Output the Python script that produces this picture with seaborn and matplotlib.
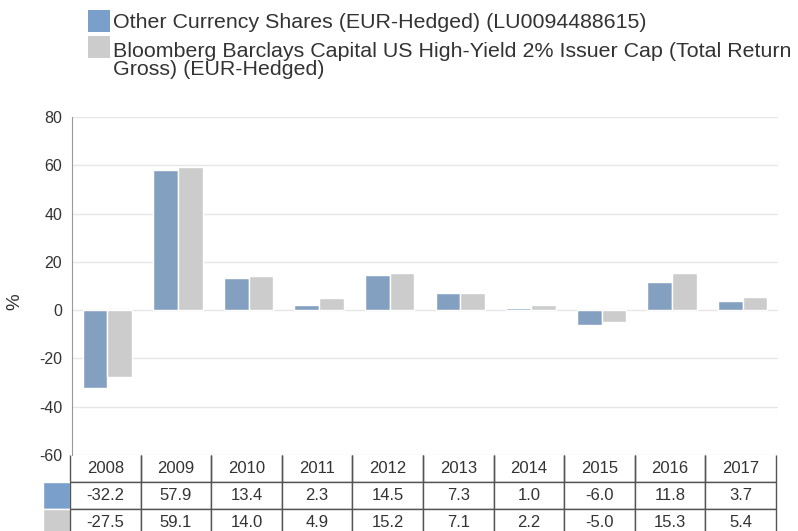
import matplotlib
matplotlib.use("Agg")
import matplotlib.pyplot as plt
from matplotlib.patches import Rectangle
import pandas as pd
import seaborn as sns

# data
years = ["2008", "2009", "2010", "2011", "2012", "2013", "2014", "2015", "2016", "2017"]
fund = [-32.2, 57.9, 13.4, 2.3, 14.5, 7.3, 1.0, -6.0, 11.8, 3.7]
bench = [-27.5, 59.1, 14.0, 4.9, 15.2, 7.1, 2.2, -5.0, 15.3, 5.4]
series_names = ["Other Currency Shares (EUR-Hedged) (LU0094488615)",
                "Bloomberg Barclays Capital US High-Yield 2% Issuer Cap (Total Return\nGross) (EUR-Hedged)"]
yticks = [-60, -40, -20, 0, 20, 40, 60, 80]

blue = "#7a9fcb"
grey = "#cccccc"
txt = "#333333"

df = pd.DataFrame({
    "year": years * 2,
    "value": fund + bench,
    "series": [series_names[0]] * len(years) + [series_names[1]] * len(years),
})

sns.set_style("white")
plt.rcParams["font.family"] = ["Liberation Sans", "DejaVu Sans"]

W, H = 798, 531
fig = plt.figure(figsize=(W / 100, H / 100), dpi=100)
ax = fig.add_axes([72 / W, (H - 455) / H, (778 - 72) / W, (455 - 117) / H])

sns.barplot(data=df, x="year", y="value", hue="series", palette=[blue, grey],
            width=0.7, edgecolor="white", linewidth=1, legend=False, ax=ax)

ax.set_ylim(-60, 80)
ax.set_yticks(yticks)
ax.set_yticklabels([str(t) for t in yticks], fontsize=11.5, color=txt)
ax.tick_params(axis="y", length=0, pad=7)
ax.set_xticks([])
ax.set_xlabel("")
ax.set_ylabel("%", fontsize=13.5, color=txt)
ax.yaxis.set_label_coords((23 - 72) / 706, (455 - 302) / 338)
ax.yaxis.grid(True, color="#e6e6e6", lw=1)
ax.set_axisbelow(True)
for s in ["top", "right", "bottom"]:
    ax.spines[s].set_visible(False)
ax.spines["left"].set_color("#999999")

# data table under the plot
cell_text = [[""] + [f"{v:.1f}" for v in fund], [""] + [f"{v:.1f}" for v in bench]]
cell_col = [[blue] + ["white"] * 10, [grey] + ["white"] * 10]
col_w = [27 / 733] + [70.6 / 733] * 10
tab = ax.table(cellText=cell_text, colLabels=[""] + years, cellColours=cell_col,
               colWidths=col_w, cellLoc="center",
               bbox=[(43 - 72) / 706, -81 / 338, 733 / 706, 81 / 338])
tab.auto_set_font_size(False)
tab.set_fontsize(12)
for (r, c), cell in tab.get_celld().items():
    cell.set_edgecolor("#555555")
    cell.set_linewidth(1)
    cell.get_text().set_color(txt)
    if r == 0:
        cell.visible_edges = "BLR"
    if c == 0:
        cell.set_edgecolor("white")
        if r == 0:
            cell.set_visible(False)

# legend at top
for i, (col, y0) in enumerate([(blue, 10), (grey, 36)]):
    fig.patches.append(Rectangle((88 / W, (H - y0 - 22) / H), 22 / W, 22 / H,
                                 transform=fig.transFigure, facecolor=col,
                                 edgecolor="none"))
fig.text(113 / W, (H - 22.5) / H, series_names[0], fontsize=15.4, color=txt, va="center")
fig.text(113 / W, (H - 42) / H, series_names[1], fontsize=15.4, color=txt, va="top",
         linespacing=0.94)

fig.savefig("out.png", dpi=100)
